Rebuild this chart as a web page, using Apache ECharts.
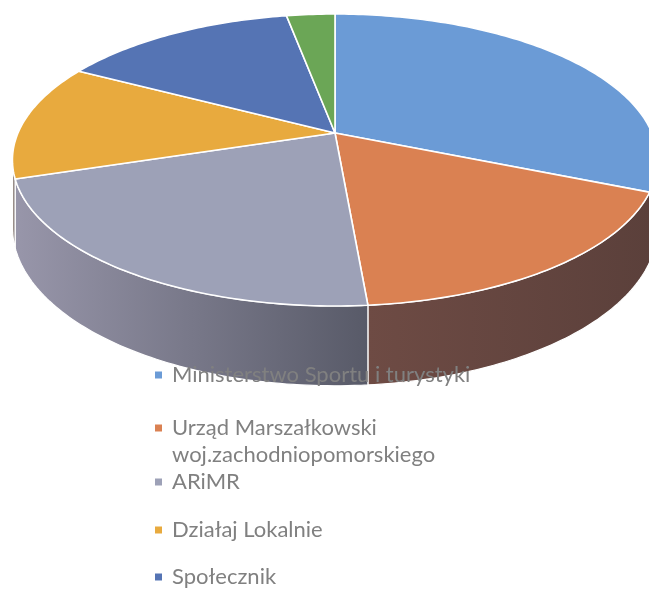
<!DOCTYPE html>
<html>
<head>
<meta charset="utf-8">
<script src="https://cdn.jsdelivr.net/npm/echarts@6/dist/echarts.min.js"></script>
<style>
html,body{margin:0;padding:0;background:#fff}
#main{width:649px;height:595px}
</style>
</head>
<body>
<div id="main"></div>
<script>
// dane
var categories = ['Ministerstwo Sportu i turystyki', 'Urząd Marszałkowski woj.zachodniopomorskiego', 'ARiMR', 'Działaj Lokalnie', 'Społecznik', 'Inne'];
var values = [31.4, 17.3, 21.4, 12.9, 14.2, 2.9];

var topColors = ['#6b9bd6', '#da8152', '#9da1b7', '#e8aa3e', '#5574b4', '#6ba656'];
var sideColors = [['#4a6e9e', '#3c5a86'], ['#6e4b44', '#5b403b'], ['#9896aa', '#585a68'], ['#9a8a78', '#8f8c98'], ['#3d5688', '#33497a'], ['#4c7a3e', '#3f6834']];

// rzut "3D" - perspektywa
var CX = 335, CY = 133, RA = 317, RB = 141, K = 0.185, DEPTH = 65;

function pt(t, down) {
    var u = Math.sin(t), v = -Math.cos(t), w = 1 - K * v;
    return [CX + RA * u / w, CY + RB * v / w + (down ? DEPTH / w : 0)];
}

var total = values.reduce(function (a, b) { return a + b; }, 0);
var acc = 0;
var slices = values.map(function (v) {
    var s = acc / total * 360;
    acc += v;
    return [s, acc / total * 360];
});

var T1 = Math.acos(-K), T2 = 2 * Math.PI - Math.acos(-K);

function arc(a, b, down) {
    var pts = [], n = Math.max(2, Math.ceil((b - a) / (Math.PI / 180)));
    for (var i = 0; i <= n; i++) pts.push(pt(a + (b - a) * i / n, down));
    return pts;
}

function renderItem(params, api) {
    var i = params.seriesIndex;
    var a = api.value(0) * Math.PI / 180, b = api.value(1) * Math.PI / 180;
    var children = [];
    var sa = Math.max(a, T1), sb = Math.min(b, T2);
    if (sb > sa) {
        var side = arc(sa, sb, false).concat(arc(sa, sb, true).reverse());
        children.push({
            type: 'polygon',
            z2: 1,
            shape: { points: side },
            style: {
                fill: new echarts.graphic.LinearGradient(0, 0, 1, 0, [
                    { offset: 0, color: sideColors[i][0] },
                    { offset: 1, color: sideColors[i][1] }
                ]),
                stroke: '#ffffff',
                lineWidth: 1.2
            }
        });
    }
    children.push({
        type: 'polygon',
        z2: 10,
        shape: { points: [[CX, CY]].concat(arc(a, b, false)) },
        style: { fill: topColors[i], stroke: '#ffffff', lineWidth: 1.6, lineJoin: 'round' }
    });
    return { type: 'group', children: children };
}

var legendCentre = [375, 428, 482, 530, 577, 625];

var myChart = echarts.init(document.getElementById('main'));
myChart.setOption({
    animation: false,
    legend: categories.map(function (name, i) {
        var twoLines = name.indexOf(' woj.') > 0;
        return {
            data: [{ name: name, icon: 'rect' }],
            orient: 'vertical',
            left: 155,
            top: legendCentre[i] - (twoLines ? 40.5 : 13.5),
            padding: 0,
            itemWidth: 7,
            itemHeight: 7,
            // druga linia pod pierwszą, ikonka przy pierwszej linii
            formatter: function (n) { return twoLines ? '\n' + n.replace(' woj.', '\nwoj.') : n; },
            textStyle: {
                fontFamily: 'Lato',
                fontSize: 22,
                color: '#808080',
                lineHeight: 27,
                padding: [0, 0, 0, 5]
            }
        };
    }),
    series: categories.map(function (name, i) {
        return {
            type: 'custom',
            name: name,
            coordinateSystem: 'none',
            itemStyle: { color: topColors[i] },
            renderItem: renderItem,
            data: [slices[i]]
        };
    })
});
</script>
</body>
</html>
